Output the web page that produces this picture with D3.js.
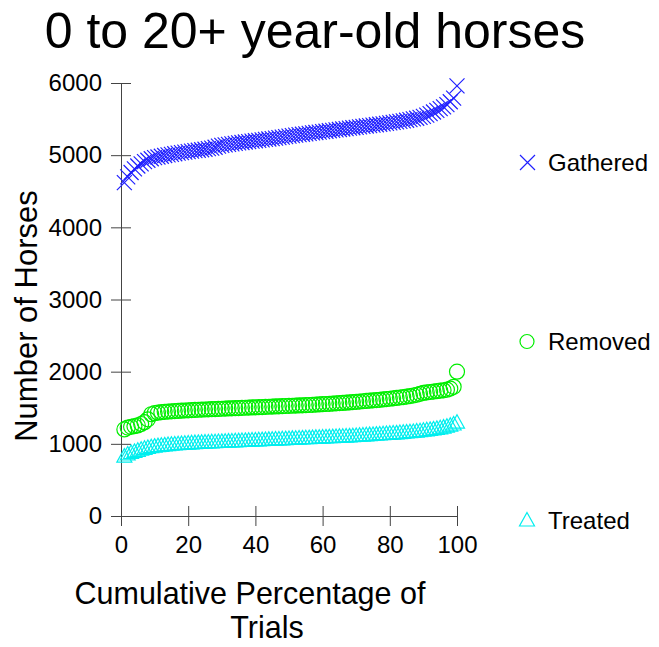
<!DOCTYPE html>
<html><head><meta charset="utf-8">
<script src="https://cdn.jsdelivr.net/npm/d3@7"></script>
<style>body{margin:0;background:#fff;} svg{display:block;} text{font-family:"Liberation Sans",Arial,sans-serif;}</style>
</head><body>
<script>
const percentages = d3.range(1, 101);
const gathered = [4620,4700,4760,4810,4850,4880,4910,4930,4950,4965,4975,4985,4995,5005,5012,5020,5028,5035,5042,5050,
5056,5062,5068,5075,5082,5090,5098,5110,5125,5135,5142,5150,5157,5163,5170,5176,5182,5188,5194,5200,
5206,5212,5218,5224,5230,5237,5244,5250,5257,5264,5270,5277,5284,5290,5296,5302,5308,5314,5320,5326,
5332,5338,5344,5350,5356,5362,5368,5374,5380,5386,5392,5398,5404,5410,5416,5422,5428,5434,5440,5447,
5454,5461,5468,5476,5484,5493,5502,5512,5524,5538,5555,5575,5598,5620,5645,5670,5700,5740,5790,5960];
const removed = [1200,1225,1235,1245,1255,1275,1300,1340,1410,1425,1432,1438,1443,1447,1450,1453,1456,1459,1462,1465,
1468,1470,1472,1474,1476,1478,1480,1482,1484,1486,1488,1490,1492,1494,1496,1498,1500,1502,1504,1506,
1508,1510,1512,1514,1516,1518,1520,1522,1524,1526,1528,1530,1532,1534,1536,1538,1540,1543,1546,1549,
1552,1555,1558,1561,1564,1567,1570,1574,1578,1582,1586,1590,1594,1598,1602,1606,1610,1615,1620,1625,
1630,1636,1642,1648,1655,1662,1670,1680,1692,1705,1712,1718,1724,1730,1736,1742,1750,1765,1790,2000];
const treated = [830,860,880,895,910,925,938,950,960,968,975,980,985,990,994,998,1002,1005,1008,1011,
1014,1017,1020,1022,1024,1026,1028,1030,1032,1034,1036,1038,1040,1042,1044,1046,1048,1050,1052,1054,
1056,1058,1060,1062,1064,1066,1068,1070,1072,1074,1076,1078,1080,1082,1084,1086,1088,1090,1092,1094,
1096,1098,1100,1102,1104,1106,1108,1110,1113,1116,1119,1122,1125,1128,1131,1134,1137,1140,1143,1146,
1149,1152,1156,1160,1164,1168,1172,1177,1182,1188,1194,1200,1207,1214,1222,1232,1244,1258,1275,1300];
const xTicks = [0,20,40,60,80,100];
const yTicks = [0,1000,2000,3000,4000,5000,6000];
const seriesNames = ["Gathered","Removed","Treated"];
const seriesColors = ["#2020ff","#00ee00","#00eeee"];

const W=659,H=647;
const svg=d3.select("body").append("svg").attr("width",W).attr("height",H);
const x=d3.scaleLinear().domain([0,100]).range([121,457]);
const y=d3.scaleLinear().domain([0,6000]).range([516,83]);
const axisColor="#444";

// title
svg.append("text").attr("x",315).attr("y",48).attr("text-anchor","middle").attr("font-size",50).text("0 to 20+ year-old horses");

// axes
const gx=svg.append("g").attr("transform","translate(0,516)")
  .call(d3.axisBottom(x).tickValues(xTicks).tickFormat(d3.format("d")).tickSizeOuter(0).tickSizeInner(10).tickPadding(14));
const gy=svg.append("g").attr("transform","translate(121,0)")
  .call(d3.axisLeft(y).tickValues(yTicks).tickFormat(d3.format("d")).tickSizeOuter(0).tickSizeInner(10).tickPadding(8));
gx.selectAll(".tick line").attr("y1",-10).attr("y2",10);
gy.selectAll(".tick line").attr("x1",-10).attr("x2",10);
[gx,gy].forEach(g=>{
  g.select(".domain").attr("stroke",axisColor);
  g.selectAll(".tick line").attr("stroke",axisColor);
  g.selectAll(".tick text").attr("font-size",24).attr("fill","#000").attr("font-family","Liberation Sans, Arial, sans-serif");
});
gy.selectAll(".tick text").attr("x",-19);
gx.selectAll(".tick text").attr("dy","0.71em").attr("y",20);

// axis titles
svg.append("text").attr("transform","translate(37,316) rotate(-90)").attr("text-anchor","middle").attr("font-size",31).text("Number of Horses");
svg.append("text").attr("x",250).attr("y",604).attr("text-anchor","middle").attr("font-size",30.5).text("Cumulative Percentage of");
svg.append("text").attr("x",267).attr("y",638).attr("text-anchor","middle").attr("font-size",30.5).text("Trials");

// markers
function drawX(g,cx,cy,s,c){
  g.append("path").attr("d",`M${cx-s},${cy-s}L${cx+s},${cy+s}M${cx-s},${cy+s}L${cx+s},${cy-s}`).attr("stroke",c).attr("fill","none").attr("stroke-width",1.2);
}
function drawCircle(g,cx,cy,r,c){
  g.append("circle").attr("cx",cx).attr("cy",cy).attr("r",r).attr("stroke",c).attr("fill","none").attr("stroke-width",1.2);
}
function drawTri(g,cx,cy,s,c){
  g.append("path").attr("d",`M${cx},${cy-s}L${cx+s},${cy+s*0.8}L${cx-s},${cy+s*0.8}Z`).attr("stroke",c).attr("fill","none").attr("stroke-width",1.2);
}
const pg=svg.append("g");
percentages.forEach((p,i)=>drawX(pg,x(p),y(gathered[i]),7.5,seriesColors[0]));
percentages.forEach((p,i)=>drawCircle(pg,x(p),y(removed[i]),7.5,seriesColors[1]));
percentages.forEach((p,i)=>drawTri(pg,x(p),y(treated[i]),7.5,seriesColors[2]));

// legend
const lg=svg.append("g");
const legY=[162.5,341.5,520];
drawX(lg,527.5,legY[0],7.5,seriesColors[0]);
drawCircle(lg,527,legY[1],7,seriesColors[1]);
drawTri(lg,527,legY[2],7.5,seriesColors[2]);
seriesNames.forEach((n,i)=>{
  lg.append("text").attr("x",548).attr("y",legY[i]).attr("dy","0.36em").attr("font-size",24).text(n);
});
</script>
</body></html>
